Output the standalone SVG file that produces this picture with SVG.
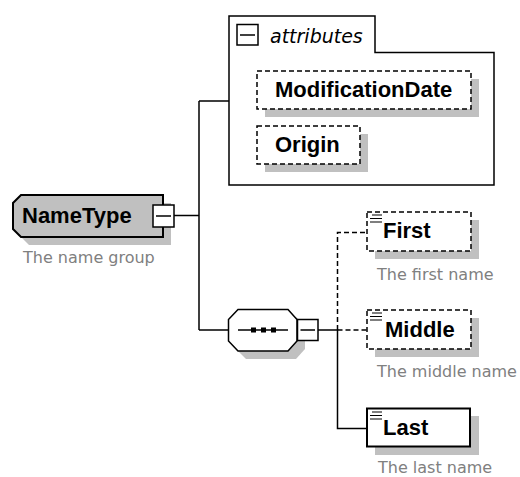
<svg xmlns="http://www.w3.org/2000/svg" width="520" height="477" viewBox="0 0 520 477">
<style>
.ln{fill:none;stroke:#000;stroke-width:1.5}
.dl{fill:none;stroke:#000;stroke-width:1.5;stroke-dasharray:5 3}
.sh{fill:#c0c0c0;stroke:none}
.dbox{fill:#fff;stroke:#000;stroke-width:1.5;stroke-dasharray:5 3}
.nm{font-family:"Liberation Sans",Arial,sans-serif;font-weight:bold;font-size:22px;fill:#000}
.ds{font-family:"DejaVu Sans",Verdana,sans-serif;font-size:16px;fill:#808080}
.ic{stroke:#000;stroke-width:1.2}
</style>
<rect width="520" height="477" fill="#fff"/>
<g id="connectors">
<path class="ln" d="M174,215.5 H199 M199,101 V330 M199,101 H229 M199,330 H228"/>
<path class="ln" d="M318,330 H337.5 V428.5 H367"/>
<path class="dl" d="M337.5,330 V232.5 H367 M337.5,330 H367"/>
</g>
<g id="NameType">
<path class="sh" d="M29,203 H171 V245 H29 L21,237 V211 Z"/>
<path d="M21,195 H163 V237 H21 L13,229 V203 Z" fill="#c0c0c0" stroke="#000" stroke-width="2"/>
<text class="nm" x="22" y="223">NameType</text>
<rect x="153" y="205" width="21" height="22" fill="#fff" stroke="#000" stroke-width="1.5"/>
<path class="ln" d="M156,216 H171"/>
<text class="ds" x="23" y="263">The name group</text>
</g>
<g id="attributes">
<path d="M229,16 H375 V52.5 H494 V185 H229 Z" fill="#fff" stroke="#000" stroke-width="1.5"/>
<rect x="237" y="24.5" width="21" height="20.5" fill="#fff" stroke="#000" stroke-width="1.5"/>
<path class="ln" d="M240,35 H255"/>
<text x="270" y="43" font-family="DejaVu Sans,Verdana,sans-serif" font-style="italic" font-size="19" fill="#000">attributes</text>
</g>
<g id="ModificationDate">
<rect class="sh" x="265" y="79" width="214" height="38"/>
<rect class="dbox" x="257" y="71" width="214" height="38"/>
<text class="nm" x="275" y="97">ModificationDate</text>
</g>
<g id="Origin">
<rect class="sh" x="265" y="134" width="103" height="38"/>
<rect class="dbox" x="257" y="126" width="103" height="38"/>
<text class="nm" x="275" y="152">Origin</text>
</g>
<g id="sequence">
<path class="sh" d="M246,317 H296 L305,327 V349 L296,359 H246 L236,349 V327 Z"/>
<path d="M238,309.5 H288 L297,319.5 V341 L288,351 H238 L228.5,341 V319.5 Z" fill="#fff" stroke="#000" stroke-width="1.5"/>
<path class="ln" d="M238,330 H288"/>
<rect x="251" y="327.5" width="5" height="5" fill="#000"/>
<rect x="261" y="327.5" width="5" height="5" fill="#000"/>
<rect x="271" y="327.5" width="5" height="5" fill="#000"/>
<rect x="297.5" y="319.5" width="20.5" height="21" fill="#fff" stroke="#000" stroke-width="1.5"/>
<path class="ln" d="M300.5,330 H315"/>
</g>
<g id="First">
<rect class="sh" x="375" y="220" width="104" height="39"/>
<rect class="dbox" x="367" y="212" width="104" height="39"/>
<path class="ic" d="M372,215 H382 M370,218.5 H382 M370,222 H382"/>
<text class="nm" x="383" y="238">First</text>
<text class="ds" x="377" y="280">The first name</text>
</g>
<g id="Middle">
<rect class="sh" x="375" y="318" width="104" height="39"/>
<rect class="dbox" x="367" y="310" width="104" height="39"/>
<path class="ic" d="M372,313 H382 M370,316.5 H382 M370,320 H382"/>
<text class="nm" x="385" y="337">Middle</text>
<text class="ds" x="377" y="377">The middle name</text>
</g>
<g id="Last">
<rect class="sh" x="375" y="416" width="104" height="39"/>
<rect x="367" y="408.5" width="103" height="38" fill="#fff" stroke="#000" stroke-width="2"/>
<path class="ic" d="M372,412 H382 M370,415.5 H382 M370,419 H382"/>
<text class="nm" x="383" y="435">Last</text>
<text class="ds" x="378" y="473">The last name</text>
</g>
</svg>
